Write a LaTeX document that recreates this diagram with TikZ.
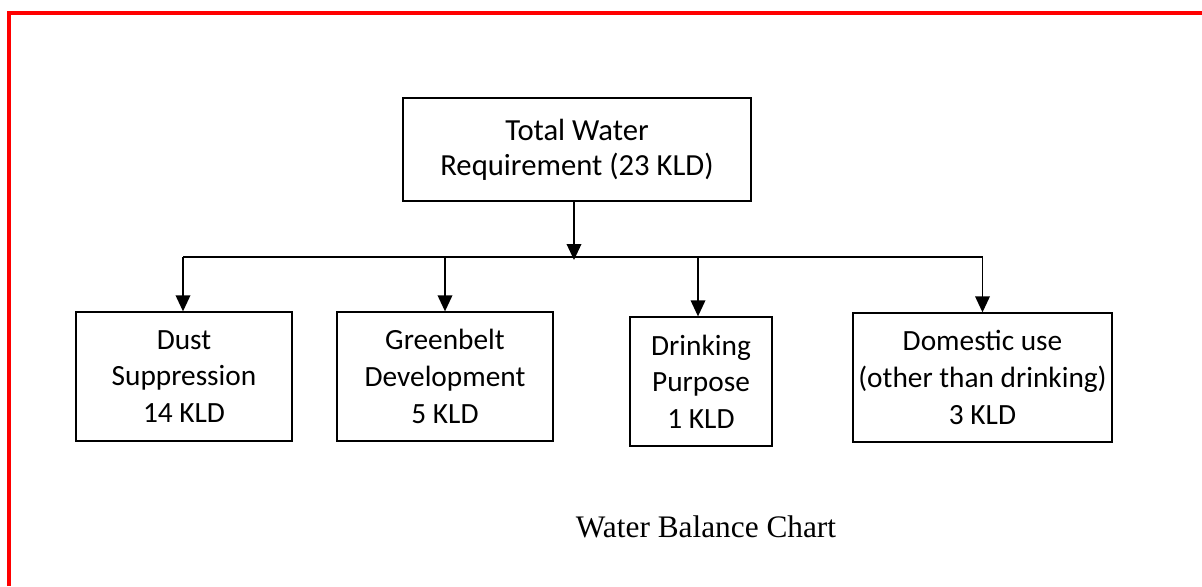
\documentclass[tikz,border=0pt]{standalone}
\usepackage{fontspec}
\setmainfont{Carlito}
\newfontfamily\capfont{Liberation Serif}
\usetikzlibrary{arrows.meta}
\begin{document}
\begin{tikzpicture}[x=0.75pt,y=-0.75pt,
  box/.style={draw=black,line width=1pt,inner sep=0pt,align=center,
    font=\fontsize{22}{27.5}\selectfont,minimum height=96.75pt},
  arr/.style={line width=1pt,-{Triangle[length=12pt,width=11pt]}},
  bus/.style={line width=1pt}]
\useasboundingbox (0,0) rectangle (1202,586);
\draw[red,line width=3pt] (9,586) -- (9,13) -- (1202,13);
\node[box,minimum width=261pt,minimum height=77.25pt,font=\fontsize{23}{26.5}\selectfont] (top) at (577,149.5) {Total Water\\Requirement (23 KLD)};
\node[box,minimum width=162pt] (dust) at (184,376.5) {Dust\\Suppression\\14 KLD};
\node[box,minimum width=162pt] (green) at (445,376.5) {Greenbelt\\Development\\5 KLD};
\node[box,minimum width=106.5pt] (drink) at (701,381.5) {Drinking\\Purpose\\1 KLD};
\node[box,minimum width=194.25pt] (dom) at (982.5,377.5) {Domestic use\\(other than drinking)\\3 KLD};
\coordinate (busL) at (183,257);
\coordinate (busR) at (983,257);
\coordinate (hit) at (574,260);
\draw[bus] (busL) -- (busR);
\draw[arr] (top.south -| hit) -- (hit);
\draw[arr] (busL) -- (dust.north -| busL);
\draw[arr] (green.north |- busL) -- (green.north);
\draw[arr] ([xshift=-2.25pt]drink.north |- busL) -- ([xshift=-2.25pt]drink.north);
\draw[arr] (dom.north |- busL) -- (dom.north);
\node[font=\capfont\fontsize{23.5}{28}\selectfont,anchor=base,inner sep=0pt] (cap) at (706,537) {Water Balance Chart};
\end{tikzpicture}
\end{document}
